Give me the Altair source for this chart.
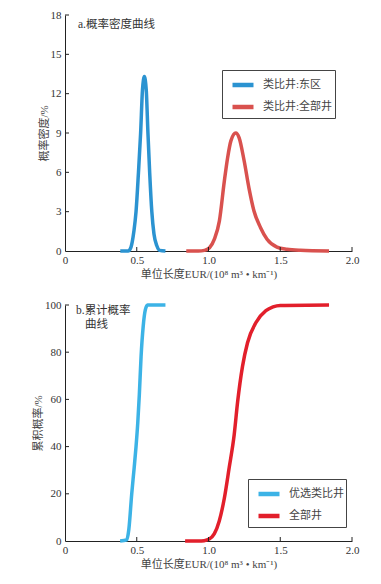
import altair as alt
import pandas as pd

# ---------------- data ----------------
pdf_east_x = [0.385, 0.44, 0.46, 0.48, 0.495, 0.512, 0.527, 0.540, 0.553, 0.566, 0.578, 0.590, 0.605, 0.620, 0.640, 0.660, 0.700]
pdf_east_y = [0.0, 0.0, 0.3, 1.5, 3.0, 6.0, 9.0, 12.3, 13.3, 12.3, 9.0, 6.0, 3.0, 1.3, 0.4, 0.05, 0.0]

pdf_all_x = [0.845, 0.93, 0.972, 1.007, 1.041, 1.076, 1.110, 1.133, 1.156, 1.19, 1.213, 1.248,
             1.282, 1.317, 1.362, 1.408, 1.477, 1.546, 1.64, 1.84]
pdf_all_y = [0.0, 0.0, 0.05, 0.25, 0.9, 2.3, 5.3, 7.1, 8.4, 9.0, 8.65, 6.9,
             4.8, 3.05, 1.8, 0.9, 0.3, 0.13, 0.05, 0.0]

cdf_opt_x = [0.384, 0.43, 0.445, 0.465, 0.482, 0.495, 0.507, 0.518, 0.530, 0.545, 0.560, 0.575, 0.700]
cdf_opt_y = [0.0, 0.5, 5.0, 20.0, 31.0, 40.0, 50.0, 62.0, 78.0, 91.0, 98.0, 100.0, 100.0]

cdf_all_x = [0.837, 0.93, 0.97, 1.005, 1.04, 1.075, 1.11, 1.144, 1.179, 1.203, 1.237, 1.272,
             1.331, 1.40, 1.45, 1.50, 1.84]
cdf_all_y = [0.0, 0.0, 0.15, 0.8, 3.0, 8.5, 18.0, 31.0, 45.0, 59.0, 74.0, 84.0,
             92.6, 97.6, 99.2, 99.8, 100.0]

x_ticks = [0, 0.5, 1.0, 1.5, 2.0]
pdf_ticks = [0, 3, 6, 9, 12, 15, 18]
cdf_ticks = [0, 20, 40, 60, 80, 100]

top_names = ["类比井:东区", "类比井:全部井"]
top_colors = ["#2b93d1", "#d9514e"]
bottom_names = ["优选类比井", "全部井"]
bottom_colors = ["#3cb3e6", "#e21f2b"]

x_title = "单位长度EUR/(10⁸ m³ • km⁻¹)"
top_ytitle = "概率密度/%"
bottom_ytitle = "累积概率/%"
top_label = "a.概率密度曲线"
bottom_label_1 = "b.累计概率"
bottom_label_2 = "曲线"

FONT = "Liberation Serif, Noto Sans CJK SC"
W, H = 287, 236


def frame(xs, ys, names):
    rows = []
    for name, xv, yv in zip(names, xs, ys):
        for i, (a, b) in enumerate(zip(xv, yv)):
            rows.append({"s": name, "x": a, "y": b, "i": i})
    return pd.DataFrame(rows)


top_df = frame([pdf_east_x, pdf_all_x], [pdf_east_y, pdf_all_y], top_names)
bot_df = frame([cdf_opt_x, cdf_all_x], [cdf_opt_y, cdf_all_y], bottom_names)


def panel(df, names, colors, ymax, yticks, ytitle, legx, legy, labels):
    xs = alt.Scale(domain=[0, 2], nice=False)
    ys = alt.Scale(domain=[0, ymax], nice=False)
    xaxis = alt.Axis(values=x_ticks, labelExpr="datum.value == 0 ? '0' : format(datum.value, '.1f')",
                     tickSize=0, labelPadding=3, title=x_title, titlePadding=3,
                     grid=False, labelFlush=False, labelOverlap=False)
    yaxis = alt.Axis(values=yticks, tickSize=0, labelPadding=4, title=ytitle, titlePadding=1,
                     grid=False, labelOverlap=False, labelFlush=False)
    lines = alt.Chart(df).mark_line(strokeWidth=3.5, interpolate="monotone").encode(
        x=alt.X("x:Q", scale=xs, axis=xaxis),
        y=alt.Y("y:Q", scale=ys, axis=yaxis),
        color=alt.Color("s:N", scale=alt.Scale(domain=names, range=colors),
                        legend=alt.Legend(orient="none", legendX=legx, legendY=legy, title=None,
                                          symbolType="stroke", symbolStrokeWidth=4.5, symbolSize=441,
                                          strokeColor="#444", fillColor="white", padding=2,
                                          symbolOffset=6, rowPadding=0, labelOffset=7, labelFont=FONT,
                                          labelFontSize=11, labelColor="#444")),
        order="i:Q",
    )
    xt = alt.Chart(pd.DataFrame({"t": x_ticks[1:]})).mark_rule(color="#222", strokeWidth=1).encode(
        x=alt.X("t:Q", scale=xs, axis=xaxis), y=alt.value(H), y2=alt.value(H - 4))
    yt = alt.Chart(pd.DataFrame({"t": yticks[1:]})).mark_rule(color="#222", strokeWidth=1).encode(
        y=alt.Y("t:Q", scale=ys, axis=yaxis), x=alt.value(0), x2=alt.value(4))
    layers = [lines, xt, yt]
    for (txt, px, py) in labels:
        layers.append(alt.Chart(pd.DataFrame({"t": [txt]})).mark_text(
            align="left", baseline="middle", font=FONT, fontSize=11.5, color="#333").encode(
            text="t:N", x=alt.value(px), y=alt.value(py)))
    return alt.layer(*layers).properties(width=W, height=H)


top = panel(top_df, top_names, top_colors, 18, pdf_ticks, top_ytitle, 157, 55,
            [(top_label, 13, 10)])
bottom = panel(bot_df, bottom_names, bottom_colors, 100, cdf_ticks, bottom_ytitle, 183, 174,
               [(bottom_label_1, 11, 6), (bottom_label_2, 20, 20)])

chart = alt.vconcat(top, bottom, spacing=19).resolve_scale(color="independent").configure(
    font=FONT, padding={"left": 24, "top": 1, "right": 5, "bottom": 5}
).configure_view(stroke=None).configure_axis(
    domainColor="#222", labelFont=FONT, titleFont=FONT, labelFontSize=11, titleFontSize=11,
    labelColor="#333", titleColor="#444", titleFontWeight="normal"
)

chart.save("out.html", embed_options={"renderer": "svg", "actions": False})
